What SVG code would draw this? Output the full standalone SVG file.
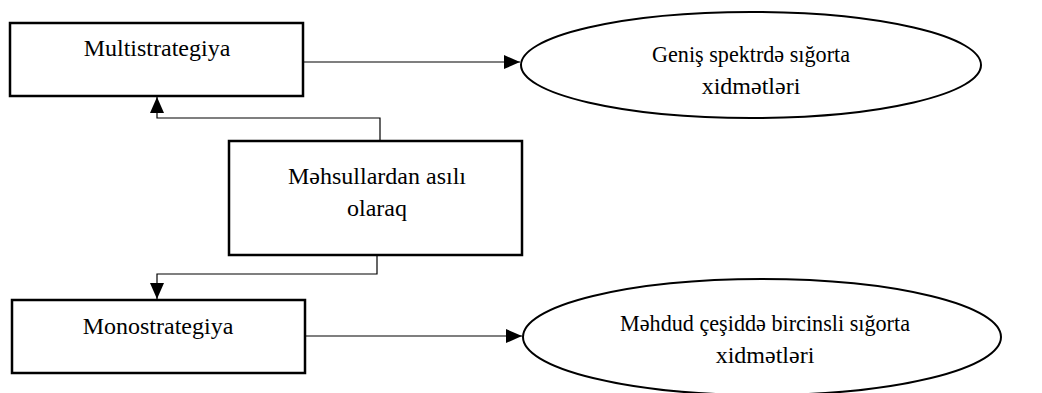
<svg xmlns="http://www.w3.org/2000/svg" width="1042" height="393" viewBox="0 0 1042 393">
  <style>
    .box { fill: #ffffff; stroke: #000000; stroke-width: 2.5; }
    .oval { fill: #ffffff; stroke: #000000; stroke-width: 2; }
    .link { fill: none; stroke: #000000; stroke-width: 1.2; }
    .label { font-family: "Liberation Serif", "Times New Roman", serif; font-size: 24px; fill: #000000; text-anchor: middle; }
  </style>
  <defs>
    <marker id="arrow" markerWidth="16" markerHeight="14" refX="16" refY="7" orient="auto" markerUnits="userSpaceOnUse">
      <path d="M0,0 L16,7 L0,14 Z" fill="#000000"/>
    </marker>
  </defs>
  <rect width="1042" height="393" fill="#ffffff"/>

  <g id="connectors">
    <path class="link" d="M303,62 L520,62" marker-end="url(#arrow)"/>
    <path class="link" d="M380,141 L380,118 L157,118 L157,97" marker-end="url(#arrow)"/>
    <path class="link" d="M377,255 L377,274 L157,274 L157,299" marker-end="url(#arrow)"/>
    <path class="link" d="M305,336 L522,336" marker-end="url(#arrow)"/>
  </g>

  <g id="multistrategiya">
    <rect class="box" x="10" y="23" width="293" height="73"/>
    <text class="label" x="157" y="56">Multistrategiya</text>
  </g>

  <g id="genis-spektr">
    <ellipse class="oval" cx="751" cy="65" rx="230" ry="53"/>
    <text class="label" x="751" y="62" textLength="198" lengthAdjust="spacingAndGlyphs">Geniş spektrdə sığorta</text>
    <text class="label" x="751" y="94">xidmətləri</text>
  </g>

  <g id="mehsullardan">
    <rect class="box" x="229" y="141" width="293" height="114"/>
    <text class="label" x="377" y="184">Məhsullardan asılı</text>
    <text class="label" x="377" y="216">olaraq</text>
  </g>

  <g id="monostrategiya">
    <rect class="box" x="12" y="300" width="293" height="73"/>
    <text class="label" x="158" y="334">Monostrategiya</text>
  </g>

  <g id="mehdud-cesid">
    <ellipse class="oval" cx="762" cy="337" rx="239" ry="58"/>
    <text class="label" x="765" y="331" textLength="290" lengthAdjust="spacingAndGlyphs">Məhdud çeşiddə bircinsli sığorta</text>
    <text class="label" x="765" y="363">xidmətləri</text>
  </g>
</svg>
